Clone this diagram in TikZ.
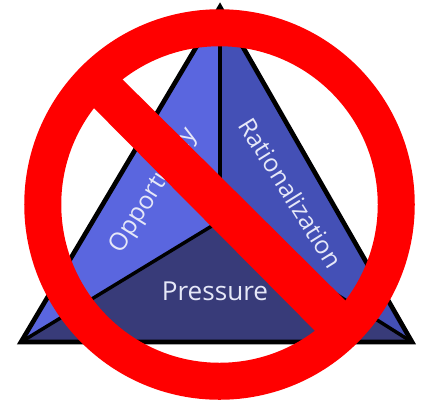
\documentclass[tikz,border=0pt]{standalone}
\usepackage{fontspec}
\setmainfont{Open Sans}
\usepackage{xcolor}
\usetikzlibrary{arrows.meta}
\definecolor{facetleft}{HTML}{5A66DF}
\definecolor{facetright}{HTML}{4450B6}
\definecolor{facetbottom}{HTML}{383B79}
\definecolor{banred}{HTML}{FF0000}
\definecolor{labelwhite}{HTML}{E6E8F8}
\tikzset{
  every picture/.style={line join=miter, line cap=butt},
  edgeline/.style={draw=black, line width=3.5pt},
  seamline/.style={draw=black, line width=2.6pt},
  sidelabel/.style={font=\fontsize{18.6}{20}\selectfont, text=labelwhite, inner sep=0pt},
  banstroke/.style={draw=banred, line width=27.75pt},
}
\begin{document}
\begin{tikzpicture}[x=0.75pt,y=-0.75pt]
\useasboundingbox (0,0) rectangle (427,401);
\coordinate (apex) at (220,7);
\coordinate (left) at (21,342);
\coordinate (right) at (412,342);
\coordinate (mid) at (220,221);
% facets
\fill[facetleft] (apex) -- (mid) -- (left) -- cycle;
\fill[facetright] (apex) -- (mid) -- (right) -- cycle;
\fill[facetbottom] (left) -- (mid) -- (right) -- cycle;
% seams and outline
\draw[seamline] (apex) -- (mid);
\draw[seamline] (left) -- (mid) -- (right);
\draw[edgeline] (apex) -- (right) -- (left) -- cycle;
% labels
\node[sidelabel, rotate=58] (opportunity) at (154,191) {Opportunity};
\node[sidelabel, rotate=-58] (rationalization) at (291,193) {Rationalization};
\node[sidelabel, font=\fontsize{19.6}{20}\selectfont] (pressure) at (215,291) {Pressure};
% ban sign
\draw[banstroke] (219.5,204.5) circle (176.75);
\fill[banred] (77,91) -- (105,62) -- (363,318) -- (333,349) -- cycle;
\end{tikzpicture}
\end{document}
